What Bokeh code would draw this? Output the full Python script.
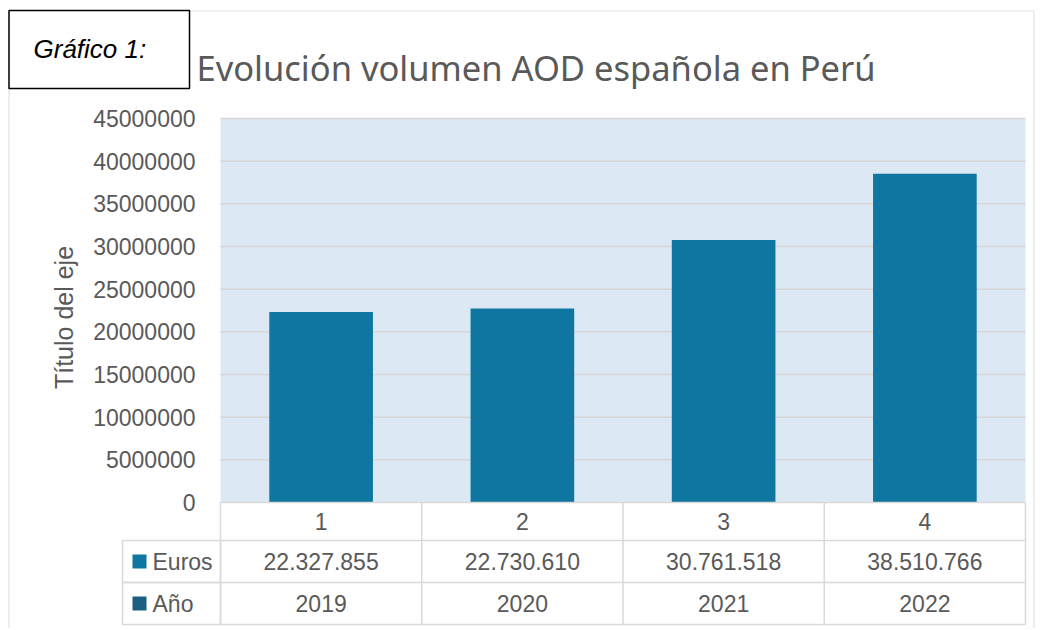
from math import pi
from bokeh.plotting import figure
from bokeh.models import Range1d
from bokeh.embed import file_html
from bokeh.resources import INLINE
from bokeh.core.properties import value

# ---- data ----
columns = [1, 2, 3, 4]
euros = [22327855, 22730610, 30761518, 38510766]
years = ["2019", "2020", "2021", "2022"]
y_ticks = [0, 5000000, 10000000, 15000000, 20000000, 25000000,
           30000000, 35000000, 40000000, 45000000]
title_text = "Evolución volumen AOD española en Perú"
axis_title = "Título del eje"
row_names = ["Euros", "Año"]
tag_text = "Gráfico 1:"
euros_labels = [f"{v:,}".replace(",", ".") for v in euros]
tick_labels = [str(t) for t in y_ticks]

# ---- colours ----
BAR = "#0e76a0"
BAR2 = "#1b5f80"
BG = "#dce9f5"
GRID = "#d6d6d6"
TABLE = "#d9d9d9"
OUTER = "#e2e2e2"
TXT = "#595959"
FONT = value("Liberation Sans")

# ---- layout (page pixels) ----
W, H = 1040, 628
FL, FR, FT, Y0 = 220, 1025, 118, 502
CW = (FR - FL) / len(columns)
x_lo = min(columns) - 0.5
x_hi = max(columns) + 0.5
U = y_ticks[-1] / (Y0 - FT)


def dx(px):
    return x_lo + (px - FL) / CW


def dy(py):
    return (Y0 - py) * U


p = figure(width=W, height=H, output_backend="svg", toolbar_location=None,
           title=None, x_range=Range1d(dx(0), dx(W)), y_range=Range1d(dy(H), dy(0)),
           x_axis_location=None, y_axis_location=None, min_border=0)
p.outline_line_color = None
p.background_fill_color = "white"
p.border_fill_color = "white"
p.xgrid.visible = False
p.ygrid.visible = False

# outer chart border
p.quad(left=[dx(8.5)], right=[dx(1033.5)], top=[dy(10.5)], bottom=[dy(700)],
       fill_color=None, line_color=OUTER, line_width=1.2)

# plot background + grid
p.quad(left=[x_lo], right=[x_hi], bottom=[y_ticks[0]], top=[y_ticks[-1]],
       fill_color=BG, line_color=None)
p.segment(x0=[x_lo] * (len(y_ticks) - 1), x1=[x_hi] * (len(y_ticks) - 1),
          y0=y_ticks[1:], y1=y_ticks[1:], line_color=GRID, line_width=1.5)

# y tick labels and axis title
p.text(x=[dx(195)] * len(y_ticks), y=y_ticks, text=tick_labels,
       text_align="right", text_baseline="middle", text_font=FONT,
       text_font_size="23px", text_color=TXT)
p.text(x=[dx(63)], y=[dy(317)], text=[axis_title], angle=pi / 2,
       text_align="center", text_baseline="middle", text_font=FONT,
       text_font_size="25px", text_color=TXT)

# bars
p.vbar(x=columns, top=euros, width=0.515, fill_color=BAR, line_color=None)

# data table
row_edges = [Y0, 540, 582, 624]
col_edges = [c - 0.5 for c in columns] + [x_hi]
p.segment(x0=col_edges, x1=col_edges, y0=[0] * len(col_edges),
          y1=[dy(row_edges[-1])] * len(col_edges), line_color=TABLE, line_width=1.5)
p.segment(x0=[x_lo] * len(row_edges), x1=[x_hi] * len(row_edges),
          y0=[dy(r) for r in row_edges], y1=[dy(r) for r in row_edges],
          line_color=TABLE, line_width=1.5)
# row-header column
p.quad(left=[dx(122)] * 2, right=[x_lo] * 2,
       top=[dy(row_edges[1]), dy(row_edges[2])], bottom=[dy(row_edges[2]), dy(row_edges[3])],
       fill_color=None, line_color=TABLE, line_width=1.5)

row_mid = [(row_edges[i] + row_edges[i + 1]) / 2 for i in range(3)]
tstyle = dict(text_align="center", text_baseline="middle", text_font=FONT,
              text_font_size="23px", text_color=TXT)
p.text(x=columns, y=[dy(row_mid[0])] * 4, text=[str(c) for c in columns], **tstyle)
p.text(x=columns, y=[dy(row_mid[1])] * 4, text=euros_labels, **tstyle)
p.text(x=columns, y=[dy(row_mid[2])] * 4, text=years, **tstyle)

# legend keys in the row header column
p.quad(left=[dx(132)] * 2, right=[dx(146)] * 2,
       top=[dy(row_mid[1] - 7), dy(row_mid[2] - 7)],
       bottom=[dy(row_mid[1] + 7), dy(row_mid[2] + 7)],
       fill_color=[BAR, BAR2], line_color=None)
p.text(x=[dx(152)] * 2, y=[dy(row_mid[1]), dy(row_mid[2])], text=row_names,
       text_align="left", text_baseline="middle", text_font=FONT,
       text_font_size="23px", text_color=TXT)

# title
p.text(x=[dx(196)], y=[dy(67)], text=[title_text], text_align="left",
       text_baseline="alphabetic", text_font=value("Noto Sans"),
       text_font_size="34.5px", text_color=TXT)

# "Gráfico 1:" box
p.quad(left=[dx(8.5)], right=[dx(189)], top=[dy(10)], bottom=[dy(88)],
       fill_color="white", line_color="black", line_width=1.5)
p.text(x=[dx(33)], y=[dy(48)], text=[tag_text], text_align="left",
       text_baseline="alphabetic", text_font=FONT, text_font_style="italic",
       text_font_size="26px", text_color="black")

open("out.html", "w").write(file_html(p, INLINE))
